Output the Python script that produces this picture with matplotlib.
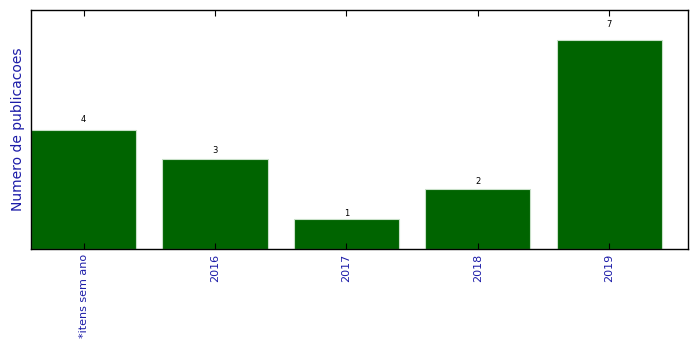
import numpy as np
import matplotlib
matplotlib.use('Agg')
import matplotlib.pyplot as plt

# dados
categorias = ['*itens sem ano', '2016', '2017', '2018', '2019']
publicacoes = [4, 3, 1, 2, 7]

fig = plt.figure(figsize=(6.99, 3.49), dpi=100)
ax = fig.add_axes([31/699, 100/349, 657/699, 239/349])

x = np.arange(len(categorias))
bars = ax.bar(x, publicacoes, 0.8, color='#006400', edgecolor='#c8e0c8', linewidth=0.8)

# rotulo em cima de cada barra
for rect in bars:
    h = rect.get_height()
    ax.text(rect.get_x() + rect.get_width()/2., 1.05*h, '%d' % int(h),
            ha='center', va='bottom', fontsize=6)

ax.set_xlim(-0.4, 4.6)
ax.set_ylim(0, 8)
ax.set_xticks(x)
ax.set_xticklabels(categorias, rotation=90, color='#1c1ca8', fontsize=8)
ax.set_yticks([])
ax.tick_params(axis='x', direction='in', top=True, length=4, width=0.8)
ax.set_ylabel('Numero de publicacoes', color='#1c1ca8', fontsize=10)
for s in ax.spines.values():
    s.set_linewidth(1)

plt.savefig('out.png', dpi=100)
